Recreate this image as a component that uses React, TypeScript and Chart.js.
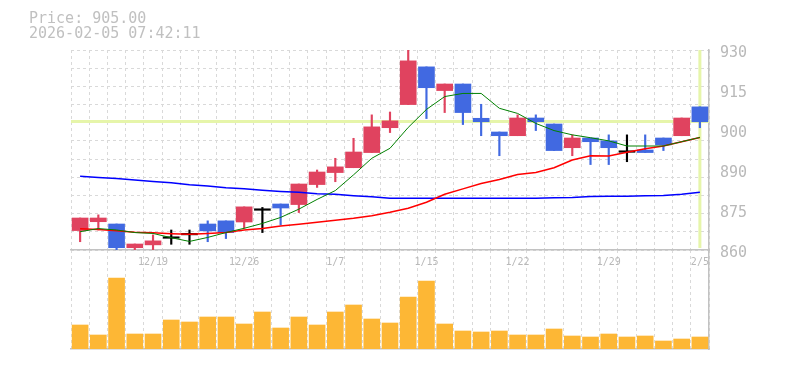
import React, { useEffect, useRef } from 'react';
import { Chart, registerables } from 'chart.js';

Chart.register(...registerables);

// ---- data ----
const DATES = [
  '12/15', '12/16', '12/17', '12/18', '12/19', '12/22', '12/23', '12/24', '12/25', '12/26',
  '12/29', '12/30', '1/5', '1/6', '1/7', '1/8', '1/9', '1/13', '1/14', '1/15',
  '1/16', '1/19', '1/20', '1/21', '1/22', '1/23', '1/26', '1/27', '1/28', '1/29',
  '1/30', '2/2', '2/3', '2/4', '2/5',
];
const X_TICK_LABELS = ['12/19', '12/26', '1/7', '1/15', '1/22', '1/29', '2/5'];

const OPEN = [
  866.8, 869.9, 869.1, 860.8, 861.8, 864.1, 865.3, 869.1, 870.2, 869.8,
  873.9, 876.1, 875.9, 882.9, 887.1, 888.8, 894.1, 902.8, 910.9, 924.1,
  915.8, 918.1, 906.1, 901.3, 900.0, 906.2, 904.1, 895.8, 899.2, 898.2,
  894.2, 895.0, 899.2, 900.0, 910.1,
];
const CLOSE = [
  871.2, 871.2, 860.8, 862.1, 863.2, 864.1, 865.3, 866.7, 866.1, 875.1,
  873.9, 874.7, 883.1, 887.3, 889.1, 894.3, 903.1, 905.2, 926.2, 916.8,
  918.1, 908.1, 904.9, 900.0, 906.2, 904.9, 894.8, 899.2, 897.9, 895.8,
  894.2, 894.1, 896.8, 906.2, 904.9,
];
const HIGH = [
  871.2, 872.3, 869.1, 862.1, 865.3, 867.0, 867.0, 870.2, 870.2, 875.1,
  874.9, 876.1, 883.1, 888.0, 892.1, 899.1, 907.3, 908.3, 931.0, 924.1,
  918.1, 918.1, 911.0, 901.3, 907.3, 907.3, 904.1, 900.3, 899.2, 900.3,
  900.3, 900.3, 899.2, 906.2, 910.1,
];
const LOW = [
  862.9, 867.0, 859.5, 859.5, 859.5, 862.0, 862.0, 862.9, 864.0, 867.6,
  866.1, 868.8, 873.1, 881.9, 883.9, 888.8, 894.1, 901.1, 910.9, 906.0,
  908.1, 903.9, 900.0, 893.0, 900.0, 901.8, 894.8, 893.0, 889.9, 889.9,
  890.9, 894.1, 894.8, 900.0, 902.8,
];
const MA5 = [
  866.4, 867.5, 867.0, 866.1, 865.8, 864.3, 863.0, 864.4, 866.1, 867.6,
  869.3, 871.4, 874.3, 877.7, 880.8, 886.3, 892.1, 895.6, 902.9, 909.2,
  913.7, 914.8, 914.8, 909.6, 907.8, 904.3, 901.8, 900.3, 899.3, 898.2,
  896.4, 896.4, 896.4, 897.9, 899.4,
];
const MA25 = [
  867.4, 867.2, 866.7, 866.2, 866.0, 865.7, 865.5, 865.8, 866.1, 867.0,
  867.5, 868.4, 869.0, 869.7, 870.4, 871.1, 872.0, 873.2, 874.6, 876.7,
  879.5, 881.4, 883.3, 884.7, 886.4, 887.1, 888.8, 891.5, 893.0, 892.9,
  894.2, 895.4, 896.4, 897.9, 899.4,
];
const MA75 = [
  885.8, 885.4, 885.0, 884.5, 884.0, 883.5, 882.8, 882.4, 881.8, 881.4,
  880.9, 880.5, 880.2, 879.7, 879.5, 879.0, 878.6, 878.1, 878.1, 878.1,
  878.1, 878.1, 878.1, 878.1, 878.1, 878.1, 878.3, 878.4, 878.7, 878.8,
  878.8, 879.0, 879.1, 879.5, 880.2,
];
const VOLUME = [
  24000, 14000, 71000, 15000, 15000, 29000, 27000, 32000, 32000, 25000,
  37000, 21000, 32000, 24000, 37000, 44000, 30000, 26000, 52000, 68000,
  25000, 18000, 17000, 18000, 14000, 14000, 20000, 13000, 12000, 15000,
  12000, 13000, 8000, 10000, 12000,
];
const VOL_MAX = 99000;

const PRICE_MIN = 860;
const PRICE_MAX = 930;
const Y_TICK_VALUES = [860, 874, 888, 902, 916, 930];
const Y_TICK_LABELS = ['860', '875', '890', '900', '915', '930'];
const GRID_VALUES = [
  860, 866.364, 872.727, 879.091, 885.455, 891.818, 898.182, 904.545, 910.909, 917.273, 923.636, 930,
];

const LAST_PRICE = 905.0;
const TIMESTAMP = '2026-02-05 07:42:11';

// ---- styles ----
const UP = '#e0435f';
const DOWN = '#4169e1';
const DOJI = '#000000';
const GRID = '#d9d9d9';
const AXIS = '#c2c2c2';
const LABEL = '#b9b9b9';
const MARK = '#e6f5aa';
const MONO = "'DejaVu Sans Mono', monospace";

const candleColors = OPEN.map((o, i) => (CLOSE[i] > o ? UP : CLOSE[i] < o ? DOWN : DOJI));

const markerPlugin = {
  id: 'lastMarker',
  beforeDatasetsDraw(chart: any) {
    const { ctx, chartArea: a, scales } = chart;
    const py = scales.y.getPixelForValue(LAST_PRICE);
    const px = scales.x.getPixelForValue(DATES.length - 1);
    ctx.save();
    ctx.strokeStyle = MARK;
    ctx.lineWidth = 3;
    ctx.beginPath();
    ctx.moveTo(a.left, py);
    ctx.lineTo(a.right, py);
    ctx.moveTo(px, a.top);
    ctx.lineTo(px, a.bottom - 2);
    ctx.stroke();
    ctx.restore();
  },
};

export default function App() {
  const priceRef = useRef<HTMLCanvasElement>(null);
  const volRef = useRef<HTMLCanvasElement>(null);

  useEffect(() => {
    const vol = new Chart(volRef.current as HTMLCanvasElement, {
      type: 'bar',
      data: {
        labels: DATES,
        datasets: [
          { label: 'Volume', data: VOLUME, backgroundColor: '#fdb735', barThickness: 16, borderWidth: 0 },
        ],
      },
      options: {
        responsive: false,
        animation: false,
        devicePixelRatio: 1,
        layout: { padding: { left: 71, top: 250, right: 0, bottom: 21 } },
        plugins: { legend: { display: false }, tooltip: { enabled: false } },
        scales: {
          x: {
            offset: true,
            grid: { offset: true, color: GRID, lineWidth: 1, drawTicks: false },
            border: { display: true, color: AXIS, width: 1.5, dash: [3, 3] },
            ticks: { display: false },
            afterFit: (s: any) => { s.height = 0; },
          },
          y: {
            position: 'right',
            min: 0,
            max: VOL_MAX,
            grid: { display: false, drawTicks: false },
            border: { display: true, color: AXIS, width: 1.5 },
            ticks: { display: false },
            afterFit: (s: any) => { s.width = 76; },
          },
        },
      },
    } as any);

    const price = new Chart(priceRef.current as HTMLCanvasElement, {
      type: 'bar',
      data: {
        labels: DATES,
        datasets: [
          { type: 'line', label: 'MA5', data: MA5, borderColor: '#008000', borderWidth: 1, pointRadius: 0, order: 0 },
          { type: 'line', label: 'MA25', data: MA25, borderColor: '#ff0000', borderWidth: 1.5, pointRadius: 0, order: 0 },
          { type: 'line', label: 'MA75', data: MA75, borderColor: '#0000ff', borderWidth: 1.5, pointRadius: 0, order: 0 },
          {
            type: 'bar', label: 'Body', data: OPEN.map((o, i) => [o, CLOSE[i]]),
            backgroundColor: candleColors, barThickness: 16, minBarLength: 1.5, grouped: false, borderWidth: 0, order: 1,
          },
          {
            type: 'bar', label: 'Wick', data: LOW.map((l, i) => [l, HIGH[i]]),
            backgroundColor: candleColors, barThickness: 1.5, grouped: false, borderWidth: 0, order: 2,
          },
        ],
      },
      options: {
        responsive: false,
        animation: false,
        devicePixelRatio: 1,
        layout: { padding: { left: 71, top: 50, right: 0, bottom: 100 } },
        plugins: { legend: { display: false }, tooltip: { enabled: false } },
        scales: {
          x: {
            type: 'category',
            offset: true,
            grid: { offset: true, color: GRID, lineWidth: 1, drawTicks: false },
            border: { display: true, color: AXIS, width: 1.5, dash: [3, 3] },
            ticks: {
              autoSkip: false, maxRotation: 0, minRotation: 0, padding: 6, color: LABEL,
              font: { family: MONO, size: 10 },
              callback: (_v: any, i: number) => (X_TICK_LABELS.includes(DATES[i]) ? DATES[i] : ''),
            },
            afterFit: (s: any) => { s.height = 20; },
          },
          y: {
            position: 'right',
            min: PRICE_MIN,
            max: PRICE_MAX,
            grid: { display: false, drawTicks: false },
            border: { display: true, color: AXIS, width: 1.5 },
            ticks: {
              padding: 11, color: LABEL, labelOffset: 3,
              font: { family: MONO, size: 15 },
              callback: (_v: any, i: number) => Y_TICK_LABELS[i],
            },
            afterBuildTicks: (s: any) => { s.ticks = Y_TICK_VALUES.map((v) => ({ value: v })); },
            afterFit: (s: any) => { s.width = 76; },
          },
          yGrid: {
            position: 'left',
            min: PRICE_MIN,
            max: PRICE_MAX,
            grid: { color: GRID, lineWidth: 1, drawTicks: false },
            border: { display: false, dash: [3, 3] },
            ticks: { display: false },
            afterBuildTicks: (s: any) => { s.ticks = GRID_VALUES.map((v) => ({ value: v })); },
            afterFit: (s: any) => { s.width = 0; },
          },
        },
      },
      plugins: [markerPlugin],
    } as any);

    return () => {
      price.destroy();
      vol.destroy();
    };
  }, []);

  const canvasStyle: React.CSSProperties = { position: 'absolute', left: 0, top: 0, width: 785, height: 370 };

  return (
    <div style={{ position: 'fixed', left: 0, top: 0, width: 785, height: 370, background: '#ffffff', overflow: 'hidden' }}>
      <canvas ref={volRef} width={785} height={370} style={canvasStyle} />
      <canvas ref={priceRef} width={785} height={370} style={canvasStyle} />
      <div
        style={{
          position: 'absolute', left: 29, top: 11, fontFamily: MONO, fontSize: 15, lineHeight: '15px',
          color: '#c0c0c0', whiteSpace: 'pre',
        }}
      >
        {`Price: ${LAST_PRICE.toFixed(2)}\n${TIMESTAMP}`}
      </div>
    </div>
  );
}
